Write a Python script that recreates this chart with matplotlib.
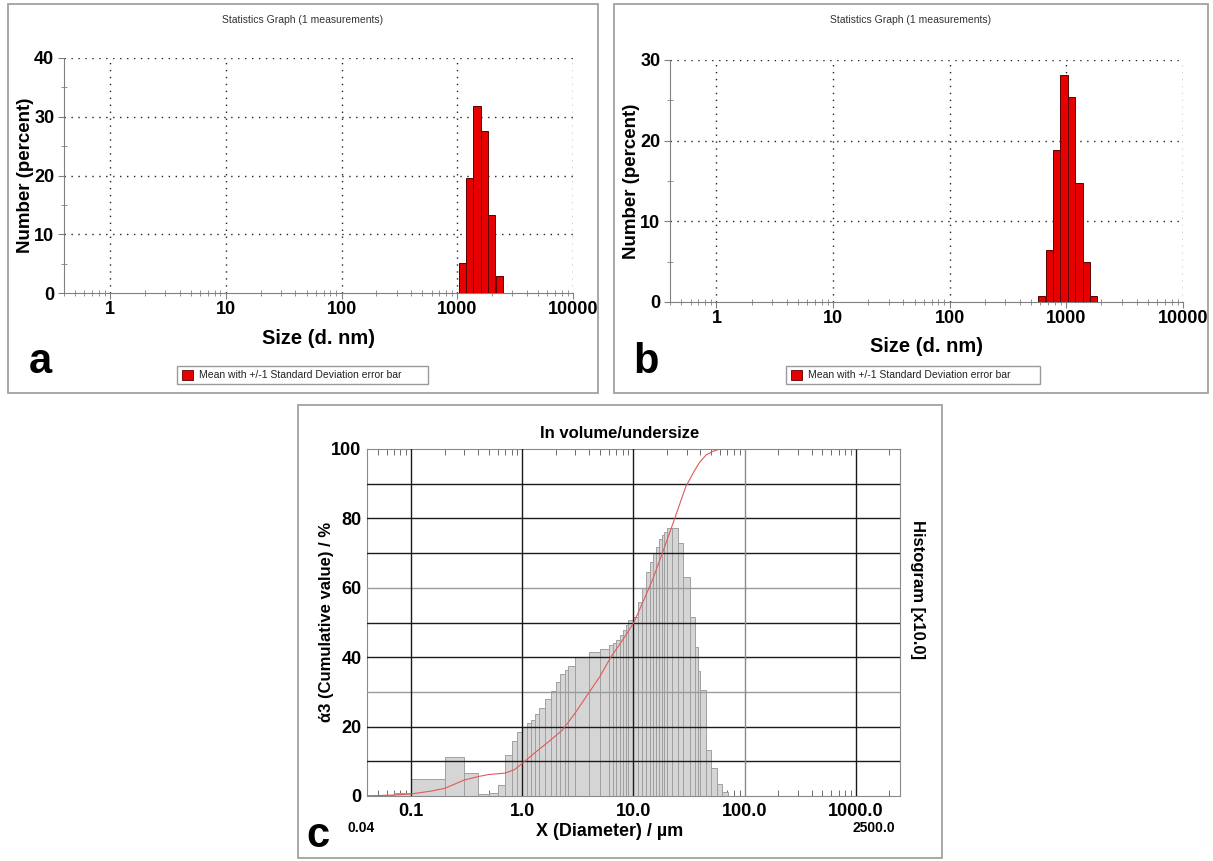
import numpy as np
import matplotlib
matplotlib.use("Agg")
import matplotlib.pyplot as plt
from matplotlib.patches import Rectangle

plt.rcParams['font.family'] = ['Liberation Sans', 'DejaVu Sans']

# --- data -------------------------------------------------------------
# panel a / b : DLS number distribution (Zetasizer bins, d. nm)
sizes_a = [1106, 1281, 1484, 1718, 1990, 2305]
number_a = [5.1, 19.6, 31.9, 27.6, 13.3, 2.9]

sizes_b = [615.1, 712.4, 825.0, 955.4, 1106, 1281, 1484, 1718]
number_b = [0.75, 6.4, 18.8, 28.2, 25.4, 14.7, 5.0, 0.75]

dls_ticks = [1, 10, 100, 1000, 10000]

# panel c : laser diffraction, histogram classes (um) and heights [x10]
class_edges = [0.04, 0.07, 0.1, 0.2, 0.3, 0.4, 0.5, 0.6, 0.7, 0.8, 0.9, 1.0,
               1.1, 1.2, 1.3, 1.4, 1.6, 1.8, 2.0, 2.2, 2.4, 2.6, 3.0, 4.0,
               5.0, 6.0, 6.5, 7.0, 7.5, 8.0, 8.5, 9.0, 10, 11, 12, 13, 14,
               15, 16, 17, 18, 19, 20, 22, 25, 28, 32, 36, 38, 40, 45, 50,
               56, 63, 71]
histogram = [0.3, 1.0, 4.8, 11.3, 6.5, 0.5, 1.0, 3.2, 11.8, 15.9, 18.4,
             19.8, 21.1, 21.9, 23.6, 25.3, 27.9, 30.4, 32.9, 35.3, 36.4, 37.4,
             40.0, 41.6, 42.3, 43.5, 44.2, 45.1, 46.4, 47.8, 49.3, 50.7,
             51.7, 56.0, 59.8, 64.6, 67.5, 69.9, 71.7, 74.0, 75.2, 76.2,
             77.1, 77.1, 72.8, 63.2, 51.7, 43.0, 36.0, 30.5, 13.3, 8.0,
             3.6, 1.2]

cum_x = [0.04, 0.07, 0.1, 0.15, 0.2, 0.3, 0.4, 0.5, 0.7, 0.85, 1.0, 1.3,
         1.7, 2.29, 3.0, 3.84, 5.0, 6.27, 8.0, 10.0, 12.0, 14.8, 18.2, 23.2,
         29.5, 35.0, 39.0, 45.0, 51.5, 60.0, 2500]
cum_y = [0.0, 0.3, 0.6, 1.4, 2.2, 4.6, 5.6, 6.2, 6.6, 7.6, 9.4, 12.5,
         15.5, 19.0, 24.0, 29.1, 34.5, 40.1, 45.0, 49.8, 55.5, 62.2, 70.0,
         79.5, 89.1, 93.5, 96.0, 98.3, 99.3, 100.0, 100.0]

c_ticks = [0.1, 1, 10, 100, 1000]
c_ticklabels = ['0.1', '1.0', '10.0', '100.0', '1000.0']

# --- figure -----------------------------------------------------------
W, H = 1213, 861
fig = plt.figure(figsize=(W / 100, H / 100), dpi=100)


def axes_px(l, t, r, b):
    return fig.add_axes([l / W, 1 - b / H, (r - l) / W, (b - t) / H])


def text_px(x, y, s, **kw):
    fig.text(x / W, 1 - y / H, s, **kw)


def frame_px(l, t, r, b, **kw):
    fig.patches.append(Rectangle((l / W, 1 - b / H), (r - l) / W, (b - t) / H,
                                 transform=fig.transFigure, fill=False, **kw))


def dls_panel(box, ax_box, sizes, values, ymax, letter, leg_box):
    l, t, r, b = box
    frame_px(l, t, r, b, ec='#9a9a9a', lw=1.2)
    ax = axes_px(*ax_box)
    step = np.log10(10000 / 0.4) / 70
    lo = np.array(sizes) / 10 ** (step / 2)
    hi = np.array(sizes) * 10 ** (step / 2)
    ax.bar(lo, values, width=hi - lo, align='edge', color='#e60000',
           edgecolor='#5c0000', lw=0.7, zorder=3)
    ax.set_xscale('log')
    ax.set_xlim(0.4, 10000)
    ax.set_ylim(0, ymax)
    for v in dls_ticks:
        ax.axvline(v, color='#222222', ls=(0, (1, 4)), lw=1.0, zorder=1)
    yt = list(range(0, ymax + 1, 10))
    for v in yt[1:]:
        ax.axhline(v, color='#222222', ls=(0, (1, 4)), lw=1.0, zorder=1)
    ax.set_xticks(dls_ticks)
    ax.set_xticklabels([str(v) for v in dls_ticks], fontweight='bold', fontsize=13)
    ax.set_yticks(yt)
    ax.set_yticklabels([str(v) for v in yt], fontweight='bold', fontsize=13)
    ax.set_yticks(np.arange(5, ymax, 10), minor=True)
    for s in ['top', 'right']:
        ax.spines[s].set_visible(False)
    for s in ['left', 'bottom']:
        ax.spines[s].set_color('#808080')
    ax.tick_params(which='major', direction='out', length=4, color='#808080')
    ax.tick_params(which='minor', direction='inout', length=5, color='#808080')
    ax.tick_params(axis='x', pad=2)
    ax.tick_params(axis='y', pad=3)
    ax.set_facecolor('white')

    al, at, ar, ab = ax_box
    cx = (l + r) / 2
    text_px(cx, 20, 'Statistics Graph (1 measurements)', ha='center',
            va='center', fontsize=7.5, color='#333333')
    text_px((al + ar) / 2, ab + 45, 'Size (d. nm)', ha='center', va='center',
            fontsize=14.5, fontweight='bold')
    text_px(al - 38, (at + ab) / 2, 'Number (percent)', ha='center',
            va='center', rotation=90, fontsize=13.5, fontweight='bold')
    text_px(l + 32, 362, letter, ha='center', va='center', fontsize=30,
            fontweight='bold')
    gl, gt, gr, gb = leg_box
    frame_px(gl, gt, gr, gb, ec='#9a9a9a', lw=1.0)
    fig.patches.append(Rectangle(((gl + 5) / W, 1 - (gb - 4) / H), 11 / W, 10 / H,
                                 transform=fig.transFigure, fc='#e60000',
                                 ec='#5c0000', lw=0.6))
    text_px(gl + 22, (gt + gb) / 2, 'Mean with +/-1 Standard Deviation error bar',
            ha='left', va='center', fontsize=7.5, color='#222222')
    return ax


dls_panel((8, 4, 598, 393), (64, 58, 573, 293), sizes_a, number_a, 40, 'a',
          (177, 366, 428, 384))
dls_panel((614, 4, 1208, 393), (670, 60, 1183, 302), sizes_b, number_b, 30, 'b',
          (786, 366, 1040, 384))

# --- panel c ----------------------------------------------------------
frame_px(298, 405, 942, 858, ec='#9a9a9a', lw=1.2)
ax = axes_px(367, 449, 900, 796)
edges = np.array(class_edges)
ax.bar(edges[:-1], histogram, width=np.diff(edges), align='edge',
       color='#d5d5d5', edgecolor='#a0a0a0', lw=0.7, zorder=2)
ax.set_xscale('log')
ax.set_xlim(0.04, 2500)
ax.set_ylim(0, 100)
for v in range(10, 100, 10):
    col = '#9a9a9a' if v in (30, 60) else '#1a1a1a'
    ax.axhline(v, color=col, lw=1.0, zorder=3)
for v in c_ticks:
    col = '#8a8a8a' if v == 100 else '#1a1a1a'
    ax.axvline(v, color=col, lw=1.0, zorder=3)
ax.plot(cum_x, cum_y, color='#e05a5a', lw=0.8, zorder=4)
ax.set_xticks(c_ticks)
ax.set_xticklabels(c_ticklabels, fontweight='bold', fontsize=13)
ax.set_yticks(range(0, 101, 20))
ax.set_yticklabels([str(v) for v in range(0, 101, 20)], fontweight='bold',
                   fontsize=13)
for s in ax.spines.values():
    s.set_color('#8a8a8a')
ax.tick_params(which='major', length=0, pad=5)
ax.tick_params(axis='x', which='minor', direction='in', length=4, top=True,
               color='#555555')
ax.tick_params(axis='y', pad=4)

text_px(620, 433, 'In volume/undersize', ha='center', va='center',
        fontsize=12, fontweight='bold')
text_px(610, 832, 'X (Diameter) / µm', ha='center', va='center',
        fontsize=13, fontweight='bold')
text_px(326, 622, 'ά3 (Cumulative value) / %', ha='center', va='center',
        rotation=90, fontsize=12, fontweight='bold')
text_px(918, 590, 'Histogram [x10.0]', ha='center', va='center',
        rotation=-90, fontsize=12, fontweight='bold')
text_px(361, 828, '0.04', ha='center', va='center', fontsize=10,
        fontweight='bold')
text_px(874, 828, '2500.0', ha='center', va='center', fontsize=10,
        fontweight='bold')
text_px(318, 836, 'c', ha='center', va='center', fontsize=30, fontweight='bold')

fig.savefig('out.png', dpi=100)
